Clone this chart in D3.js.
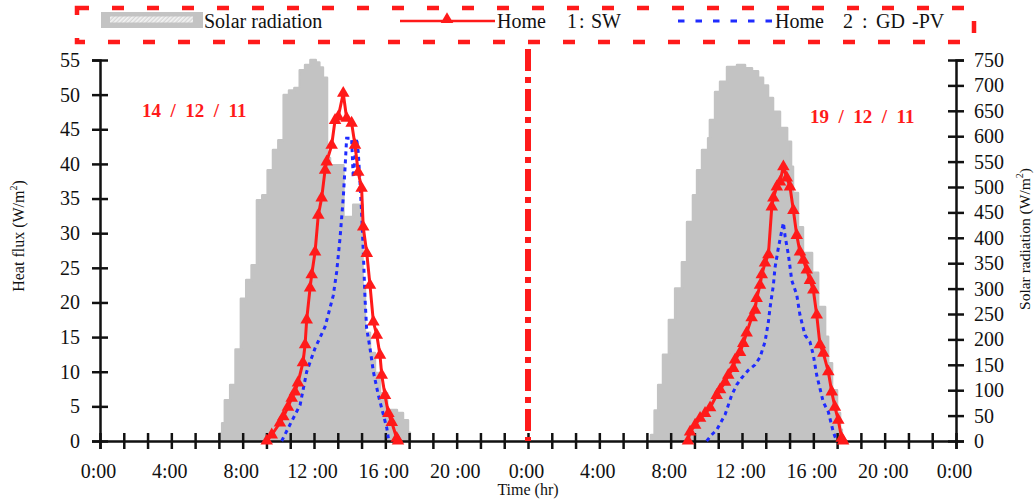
<!DOCTYPE html>
<html>
<head>
<meta charset="utf-8">
<script src="https://cdn.jsdelivr.net/npm/d3@7"></script>
<style>
  html, body { margin: 0; padding: 0; background: #fff; }
  svg, svg text { font-family: "Liberation Serif", "Times New Roman", serif; }
  svg { display: block; }
</style>
</head>
<body>
<svg id="chart" width="1035" height="504"></svg>
<script>
// ---- Day 1: 14/12/11 (clock hours) ----
const solarTime1 = [6.70, 6.85, 7.00, 7.30, 7.60, 7.90, 8.20, 8.50, 8.80, 9.10, 9.40, 9.70, 10.00, 10.30, 10.60, 10.90, 11.20, 11.50, 11.80, 12.10, 12.30, 12.50, 12.73, 12.90, 13.65, 14.20, 14.72, 14.86, 15.14, 15.42, 15.70, 16.10, 16.65, 16.99, 17.27, 17.38];
const solarRad1  = [15, 35, 80, 110, 180, 280, 317, 346, 474, 484, 533, 573, 592, 681, 690, 695, 730, 740, 750, 745, 735, 715, 557, 543, 441, 465, 303, 213, 173, 134, 94, 61, 55, 41, 16, 0];

const swTime1 = [9.35, 9.63, 10.09, 10.28, 10.54, 10.75, 10.93, 11.10, 11.38, 11.50, 11.59, 11.78, 11.87, 12.06, 12.24, 12.43, 12.62, 12.71, 12.99, 13.18, 13.36, 13.64, 13.83, 14.11, 14.30, 14.48, 14.67, 14.76, 14.96, 15.14, 15.33, 15.52, 15.70, 15.80, 15.98, 16.17, 16.36, 16.64, 16.71];
const swFlux1 = [0, 0.9, 2.6, 3.5, 4.9, 6.2, 7.1, 8.4, 11.3, 13.9, 17.5, 22.1, 24.0, 27.3, 32.6, 35.1, 39.1, 40.3, 42.7, 46.3, 46.8, 50.2, 46.6, 45.9, 42.7, 38.8, 36.5, 30.9, 27.1, 22.5, 17.2, 15.3, 12.4, 9.5, 6.6, 4.0, 2.7, 0.4, 0];

const pvTime1 = [10.19, 10.56, 11.22, 11.59, 12.06, 12.62, 13.08, 13.27, 13.46, 13.64, 13.74, 13.83, 14.11, 14.20, 14.39, 14.48, 14.58, 14.67, 14.77, 14.86, 14.95, 15.14, 15.33, 15.61, 15.89, 16.08, 16.17];
const pvFlux1 = [0, 1.9, 5.2, 10.0, 13.4, 16.5, 21.0, 24.4, 29.3, 35.1, 39.4, 43.7, 43.7, 38.0, 43.7, 41.7, 37.4, 33.0, 26.9, 20.6, 16.3, 13.4, 10.0, 6.6, 3.8, 1.9, 0.4];

// ---- Day 2: 19/12/11 (clock hours) ----
const solarTime2 = [6.90, 7.10, 7.30, 7.57, 7.90, 8.25, 8.63, 8.92, 9.25, 9.48, 9.76, 10.10, 10.20, 10.49, 10.77, 11.16, 11.72, 12.17, 12.56, 12.90, 13.18, 13.46, 13.74, 14.13, 14.53, 14.75, 14.86, 15.14, 15.42, 15.93, 16.27, 16.66, 16.83, 17.05, 17.33, 17.50, 17.60];
const solarRad2  = [12, 60, 110, 170, 238, 300, 352, 431, 484, 533, 573, 596, 632, 687, 707, 736, 740, 734, 728, 715, 700, 675, 648, 616, 589, 540, 488, 421, 370, 331, 264, 205, 153, 100, 55, 22, 0];

const swTime2 = [8.97, 9.09, 9.37, 9.65, 9.93, 10.21, 10.58, 10.77, 11.05, 11.23, 11.51, 11.61, 11.89, 12.07, 12.26, 12.54, 12.73, 12.82, 13.01, 13.11, 13.29, 13.48, 13.67, 13.76, 13.95, 14.13, 14.32, 14.51, 14.69, 14.88, 15.07, 15.25, 15.44, 15.63, 15.81, 16.00, 16.19, 16.37, 16.56, 16.84, 17.03, 17.21, 17.40, 17.59, 17.67];
const swFlux2 = [0, 1.3, 2.3, 3.3, 4.0, 4.8, 6.6, 7.4, 8.5, 9.5, 10.5, 11.7, 12.8, 14.1, 15.6, 17.8, 18.9, 20.6, 22.5, 24.0, 25.7, 26.9, 33.8, 35.1, 36.7, 37.4, 39.6, 38.0, 36.7, 33.3, 29.7, 27.3, 26.1, 24.7, 23.2, 21.8, 18.2, 13.9, 12.7, 10.0, 7.1, 4.9, 3.0, 0.4, 0];

const pvTime2 = [10.02, 10.30, 10.58, 11.05, 11.42, 11.70, 11.98, 12.35, 12.73, 13.01, 13.29, 13.48, 13.57, 13.76, 13.85, 14.04, 14.32, 14.42, 14.60, 14.79, 15.07, 15.25, 15.53, 15.81, 16.00, 16.19, 16.37, 16.56, 16.84, 17.12, 17.31];
const pvFlux2 = [0, 0.9, 1.6, 3.8, 6.6, 8.1, 9.1, 10.2, 11.0, 12.1, 14.3, 17.2, 19.2, 22.5, 25.0, 27.9, 31.5, 29.5, 26.9, 23.2, 21.1, 18.2, 15.3, 14.3, 12.4, 9.5, 7.6, 5.6, 4.2, 1.3, 0];

// ---- Axis labels ----
const timeLabels = ["0:00", "4:00", "8:00", "12 :00", "16 :00", "20 :00", "0:00", "4:00", "8:00", "12 :00", "16 :00", "20 :00", "0:00"];
const fluxTicks = d3.range(0, 56, 5);
const solarTicks = d3.range(0, 751, 50);
const dateLabels = ["14  /  12  /  11", "19  /  12  /  11"];
const seriesNames = ["Solar radiation", "Home", "Home"];

const FONT = "'Liberation Serif', 'Times New Roman', serif";

// ---- Scales ----
const svg = d3.select("#chart");
const x = d3.scaleLinear().domain([0, 48]).range([100, 956]);
const yFlux = d3.scaleLinear().domain([0, 55]).range([441, 60]);
const ySolar = d3.scaleLinear().domain([0, 750]).range([441, 60]);

const zip = (t, v, offset) => t.map((h, i) => ({ t: h + offset, v: v[i] }));

const solar = [zip(solarTime1, solarRad1, 0), zip(solarTime2, solarRad2, 24)];
const sw = [zip(swTime1, swFlux1, 0), zip(swTime2, swFlux2, 24)];
const pv = [zip(pvTime1, pvFlux1, 0), zip(pvTime2, pvFlux2, 24)];

const RED = "#ff1a1a";
const BLUE = "#1f2bff";
const GREY = "#c3c3c3";

// hatch for the legend swatch
const defs = svg.append("defs");
const hatch = defs.append("pattern")
  .attr("id", "hatch").attr("patternUnits", "userSpaceOnUse")
  .attr("width", 3).attr("height", 3).attr("patternTransform", "rotate(45)");
hatch.append("rect").attr("width", 3).attr("height", 3).attr("fill", "#d6d6d6");
hatch.append("rect").attr("width", 1.6).attr("height", 3).attr("fill", "#f4f4f4");

// ---- Solar radiation areas ----
const area = d3.area()
  .x(d => x(d.t))
  .y0(ySolar(0))
  .y1(d => ySolar(d.v))
  .curve(d3.curveStepAfter);

svg.append("g").selectAll("path").data(solar).join("path")
  .attr("d", area)
  .attr("fill", GREY)
  .attr("stroke", GREY)
  .attr("stroke-width", 2.5)
  .attr("stroke-linejoin", "round");

// ---- Axes ----
const axisG = svg.append("g");

function styleAxis(g) {
  g.attr("font-family", FONT).attr("font-size", 20);
  g.select(".domain").attr("stroke", "#111").attr("stroke-width", 2.5);
  g.selectAll(".tick line").attr("stroke", "#111").attr("stroke-width", 2.5);
  g.selectAll(".tick text").attr("fill", "#111").style("font-family", FONT).style("font-size", "20px");
}

// x axis (time)
const xTickValues = d3.range(0, 48.001, 4 / 3);
const xAxis = d3.axisBottom(x)
  .tickValues(xTickValues)
  .tickSizeOuter(0)
  .tickSize(8)
  .tickFormat((d, i) => (i % 3 === 0 ? timeLabels[i / 3] : ""));
const gx = axisG.append("g").attr("transform", "translate(0,441)").call(xAxis).call(styleAxis);
gx.selectAll(".tick line").attr("y1", -8).attr("y2", 8);
gx.selectAll(".tick text").attr("y", 37).attr("dy", 0).attr("dx", -2);

// left axis (heat flux)
const yAxisL = d3.axisLeft(yFlux).tickValues(fluxTicks).tickSizeOuter(0).tickSize(8);
const gl = axisG.append("g").attr("transform", "translate(100,0)").call(yAxisL).call(styleAxis);
gl.selectAll(".tick line").attr("x1", -8).attr("x2", 8);
gl.selectAll(".tick text").attr("x", -20);

// right axis (solar radiation)
const yAxisR = d3.axisRight(ySolar).tickValues(solarTicks).tickSizeOuter(0).tickSize(8);
const gr = axisG.append("g").attr("transform", "translate(956,0)").call(yAxisR).call(styleAxis);
gr.selectAll(".tick line").attr("x1", -8).attr("x2", 8);
gr.selectAll(".tick text").attr("x", 18);

// ---- Day separator ----
svg.append("line")
  .attr("x1", x(24)).attr("x2", x(24))
  .attr("y1", 49).attr("y2", yFlux(0))
  .attr("stroke", RED).attr("stroke-width", 6)
  .attr("stroke-dasharray", "22,6,6,6");

// ---- Heat flux lines ----
const line = d3.line().x(d => x(d.t)).y(d => yFlux(d.v));

const tri = d3.symbol().type(d3.symbolTriangle).size(68);

pv.forEach(series => {
  svg.append("path").datum(series)
    .attr("d", line).attr("fill", "none")
    .attr("stroke", BLUE).attr("stroke-width", 3)
    .attr("stroke-dasharray", "4,4");
});

sw.forEach(series => {
  svg.append("path").datum(series)
    .attr("d", line).attr("fill", "none")
    .attr("stroke", RED).attr("stroke-width", 3).attr("stroke-linejoin", "round");
  svg.append("g").selectAll("path").data(series).join("path")
    .attr("d", tri)
    .attr("transform", d => `translate(${x(d.t)},${yFlux(d.v)})`)
    .attr("fill", RED);
});

// ---- Date labels ----
svg.append("text").attr("x", 142).attr("y", 117)
  .attr("fill", RED).attr("font-weight", "bold").attr("font-size", 19)
  .style("white-space", "pre").text(dateLabels[0]);
svg.append("text").attr("x", 810).attr("y", 123)
  .attr("fill", RED).attr("font-weight", "bold").attr("font-size", 19)
  .style("white-space", "pre").text(dateLabels[1]);

// ---- Axis titles ----
svg.append("text")
  .attr("transform", "translate(24,236) rotate(-90)")
  .attr("text-anchor", "middle").attr("font-size", 16).attr("fill", "#111")
  .call(t => {
    t.append("tspan").text("Heat flux (W/m");
    t.append("tspan").attr("dy", -7).attr("font-size", 10).text("2");
    t.append("tspan").attr("dy", 7).text(")");
  });

svg.append("text")
  .attr("transform", "translate(1030,239) rotate(-90)")
  .attr("text-anchor", "middle").attr("font-size", 15.5).attr("fill", "#111")
  .call(t => {
    t.append("tspan").text("Solar radiation (W/m");
    t.append("tspan").attr("dy", -7).attr("font-size", 10).text("2");
    t.append("tspan").attr("dy", 7).text(")");
  });

svg.append("text").attr("x", 528).attr("y", 495)
  .attr("text-anchor", "middle").attr("font-size", 16).attr("fill", "#111")
  .text("Time (hr)");

// ---- Legend ----
const lg = svg.append("g").attr("font-size", 20).attr("fill", "#111");
lg.append("rect")
  .attr("x", 77).attr("y", 8).attr("width", 897).attr("height", 34)
  .attr("fill", "none").attr("stroke", RED).attr("stroke-width", 4.5)
  .attr("stroke-dasharray", "12,23");

lg.append("rect").attr("x", 101).attr("y", 12).attr("width", 102).attr("height", 16).attr("fill", GREY);
lg.append("rect").attr("x", 110).attr("y", 16.5).attr("width", 83).attr("height", 6).attr("fill", "url(#hatch)");
lg.append("text").attr("x", 204).attr("y", 28).text(seriesNames[0]);

lg.append("line").attr("x1", 400).attr("x2", 495).attr("y1", 21).attr("y2", 21)
  .attr("stroke", RED).attr("stroke-width", 2.6);
lg.append("path").attr("d", tri).attr("transform", "translate(447,19.5)").attr("fill", RED);
lg.append("text").attr("y", 28).call(t => {
  t.append("tspan").attr("x", 497).text(seriesNames[1]);
  t.append("tspan").attr("x", 567).text("1");
  t.append("tspan").attr("x", 579).text(":");
  t.append("tspan").attr("x", 591).text("SW");
});

lg.append("line").attr("x1", 678).attr("x2", 772).attr("y1", 21).attr("y2", 21)
  .attr("stroke", BLUE).attr("stroke-width", 2.8).attr("stroke-dasharray", "6.5,11");
lg.append("text").attr("y", 28).call(t => {
  t.append("tspan").attr("x", 775).text(seriesNames[2]);
  t.append("tspan").attr("x", 843).text("2");
  t.append("tspan").attr("x", 862).text(":");
  t.append("tspan").attr("x", 876).text("GD");
  t.append("tspan").attr("x", 912).text("-PV");
});
</script>
</body>
</html>
